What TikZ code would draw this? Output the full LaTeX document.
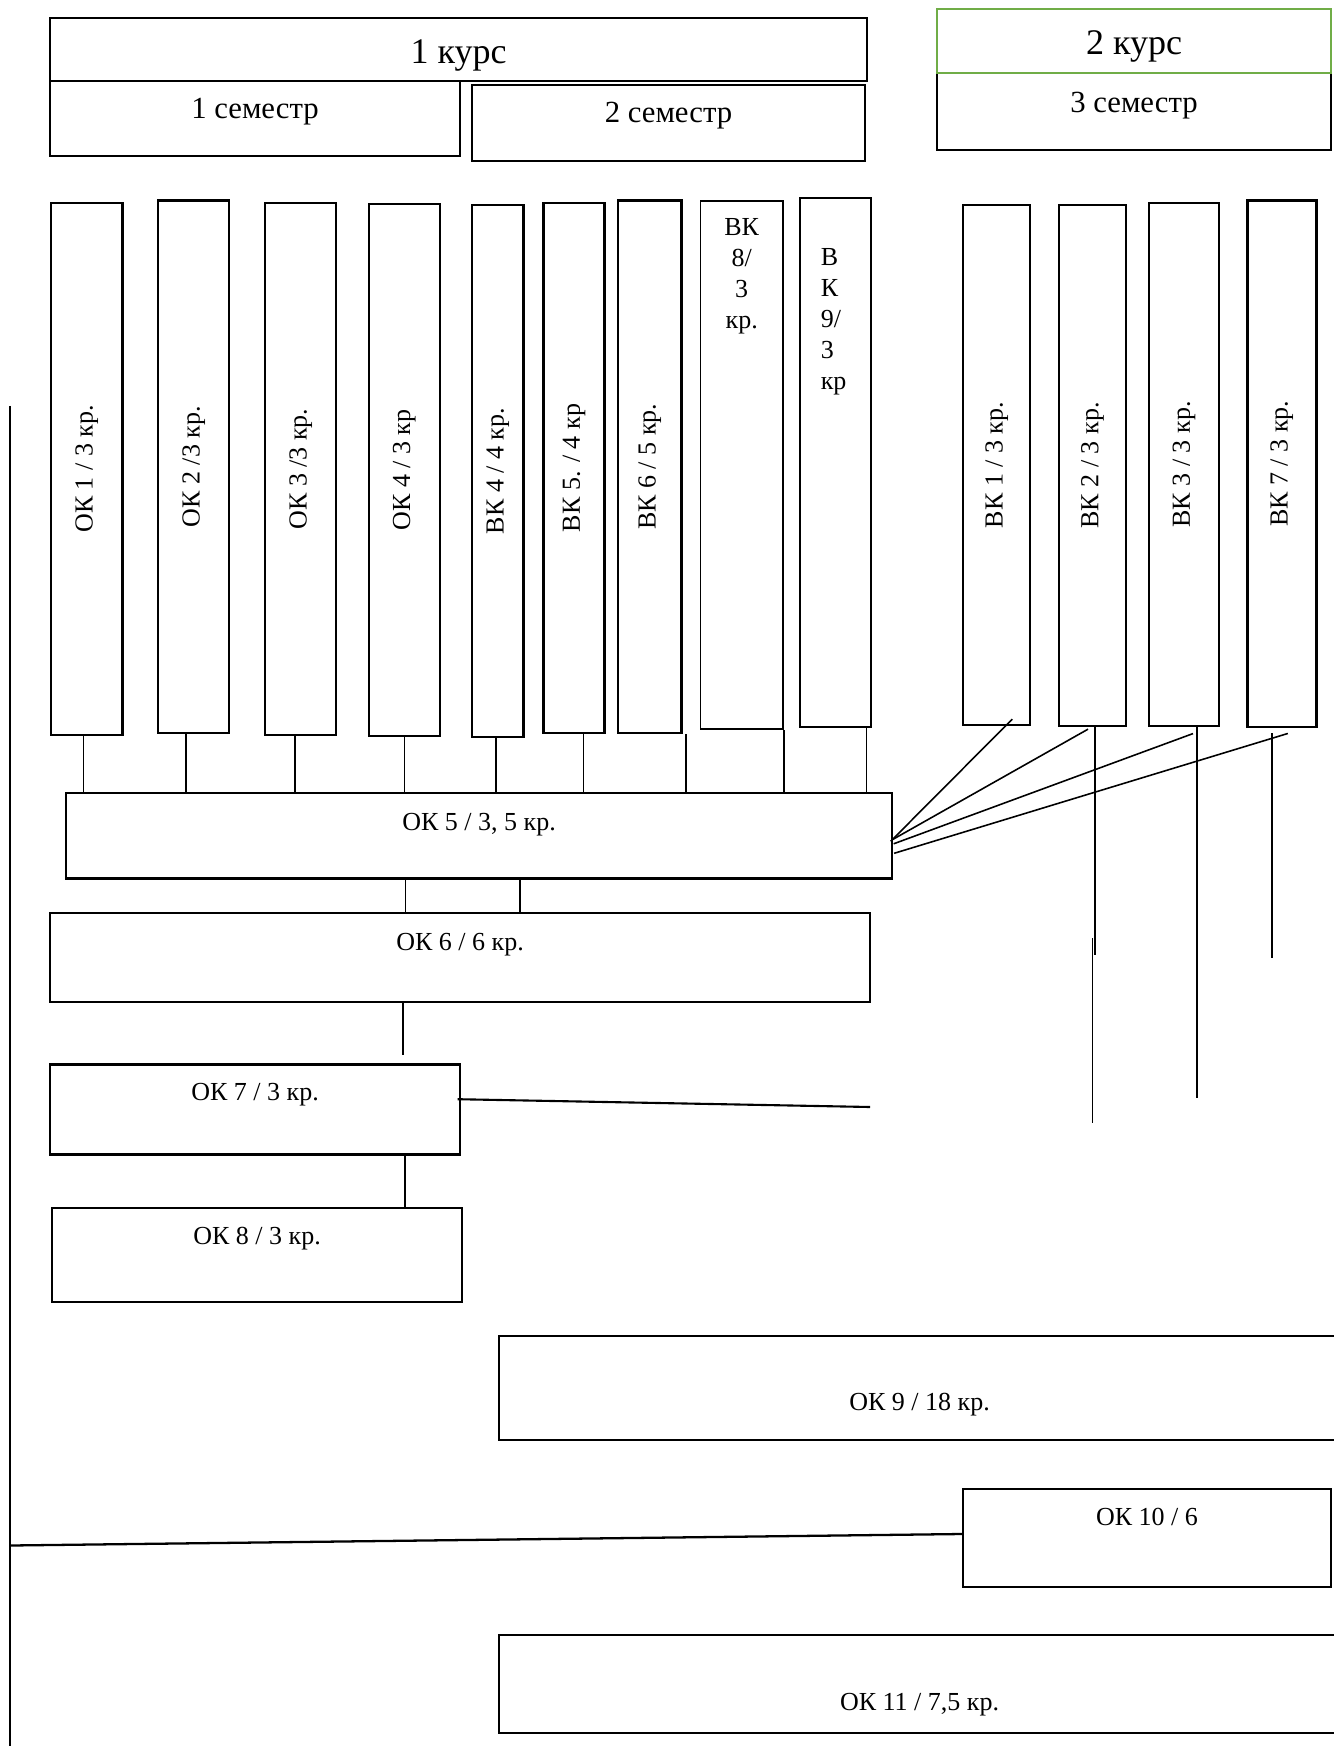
\documentclass[tikz,border=0pt]{standalone}
\usepackage{fontspec}
\setmainfont{Liberation Serif}
\usepackage{graphicx}
\usepackage{xcolor}
\definecolor{kursgreen}{RGB}{112,173,71}

\tikzset{
  box/.style={draw=black, line width=1.4pt, inner sep=0pt, font=\fontsize{14.8}{17.7}\selectfont},
  thinbox/.style={box, line width=1.1pt},
  conn/.style={draw=black, line width=0.9pt},
  rail/.style={draw=black, line width=1.3pt}
}

\begin{document}
\begin{tikzpicture}[x=0.02cm, y=-0.02cm]
  \useasboundingbox (0,0) rectangle (1333,1746);

  \node[box, minimum width=8.2cm, minimum height=1.5cm, font=\fontsize{17.5}{21}\selectfont, text height=12pt, text depth=12pt] (sem1) at (255,118.5) {1 семестр};
  \node[box, minimum width=7.86cm, minimum height=1.52cm, font=\fontsize{17.5}{21}\selectfont, text height=12pt, text depth=12pt] (sem2) at (668.5,123) {2 семестр};
  \node[box, minimum width=16.34cm, minimum height=1.26cm, font=\fontsize{20.5}{24}\selectfont, text height=20.4pt, text depth=4.5pt] (kurs1) at (458.5,49.5) {1 курс};
  \node[box, minimum width=7.88cm, minimum height=1.54cm, font=\fontsize{17.5}{21}\selectfont, text height=12pt, text depth=11pt] (sem3) at (1134,111.5) {3 семестр};
  \node[box, draw=kursgreen, line width=1.2pt, minimum width=7.88cm, minimum height=1.28cm, font=\fontsize{20.5}{24}\selectfont, text height=20.4pt, text depth=4.5pt] (kurs2) at (1134,41) {2 курс};

  \foreach \n/\x/\y/\w/\h/\t in {
      ok1/86.8/469/1.43cm/10.64cm/{ОК 1 / 3 кр.},
      ok2/193.7/466.7/1.42cm/10.65cm/{ОК 2 /3 кр.},
      ok3/300.7/469/1.42cm/10.64cm/{ОК 3 /3 кр.},
      ok4/404.3/470/1.42cm/10.64cm/{ОК 4 / 3 кр},
      vk4/497.7/471/1.03cm/10.64cm/{ВК 4 / 4 кр.},
      vk5/574/468/1.22cm/10.6cm/{ВК 5. / 4 кр},
      vk6/649.8/466.7/1.27cm/10.65cm/{ВК 6 / 5 кр.},
      vk1/996.7/465/1.34cm/10.4cm/{ВК 1 / 3 кр.},
      vk2/1092.5/465.5/1.34cm/10.42cm/{ВК 2 / 3 кр.},
      vk3/1184/464.4/1.4cm/10.46cm/{ВК 3 / 3 кр.},
      vk7/1281.8/463.8/1.38cm/10.54cm/{ВК 7 / 3 кр.}}
    \node[box, minimum width=\w, minimum height=\h] (\n) at (\x,\y) {\rotatebox{90}{\t}};

  \node[thinbox] (vk8) at (741.7,465) {\parbox[c][10.58cm][t]{1.65cm}{\centering\vspace*{10pt}ВК\\8/\\3\\кр.}};
  \node[thinbox] (vk9) at (835.2,462.5) {\parbox[c][10.58cm][t]{1.42cm}{\raggedright\leftskip=12pt\vspace*{28.5pt}В\\К\\9/\\3\\кр}};

  \node[box, minimum width=16.52cm, minimum height=1.71cm, text height=10pt, text depth=16pt] (ok5) at (479,835.8) {ОК 5 / 3, 5 кр.};
  \node[box, minimum width=16.4cm, minimum height=1.78cm, text height=10pt, text depth=18pt] (ok6) at (460,957.6) {ОК 6 / 6 кр.};
  \node[box, minimum width=8.2cm, minimum height=1.8cm, text height=10pt, text depth=20pt] (ok7) at (255,1109.7) {ОК 7 / 3 кр.};
  \node[thinbox, minimum width=8.2cm, minimum height=1.88cm, text height=10pt, text depth=22pt] (ok8) at (257,1255) {ОК 8 / 3 кр.};
  \node[thinbox, minimum width=16.82cm, minimum height=2.07cm, text height=28.6pt, text depth=3pt] (ok9) at (919.5,1388) {ОК 9 / 18 кр.};
  \node[thinbox, minimum width=7.36cm, minimum height=1.96cm, text height=10pt, text depth=24pt] (ok10) at (1147,1538) {ОК 10 / 6};
  \node[thinbox, minimum width=16.82cm, minimum height=1.96cm, text height=32.8pt, text depth=3pt] (ok11) at (919.5,1683.8) {ОК 11 / 7,5 кр.};

  \foreach \n/\a/\dx in {ok1/south/-0.07, ok2/south/-0.15, ok3/south/-0.11, ok4/south/0,
      vk4/south/-0.04, vk5/south/0.19, vk6/south east/0.06, vk8/south east/0, vk9/south east/-0.1}
    \draw[conn] ([xshift=\dx cm]\n.\a) -- ([xshift=\dx cm]\n.\a |- ok5.north);

  \draw[conn] ([xshift=0.31cm, yshift=0.14cm]vk1.south) -- ([xshift=-0.05cm, yshift=-0.11cm]ok5.east);
  \draw[conn] ([xshift=-0.09cm, yshift=-0.04cm]vk2.south) -- ([xshift=-0.02cm, yshift=-0.08cm]ok5.east);
  \draw[conn] ([xshift=0.18cm, yshift=-0.13cm]vk3.south) -- ([xshift=0.01cm, yshift=-0.16cm]ok5.east);
  \draw[conn] ([xshift=0.12cm, yshift=-0.1cm]vk7.south) -- ([xshift=0.02cm, yshift=-0.35cm]ok5.east);

  \coordinate (vk2tail) at (1095,955);
  \coordinate (vk2a) at (1092.6,938);
  \coordinate (vk2b) at (1092.6,1123);
  \coordinate (vk3tail) at (1197,1098);
  \coordinate (vk7tail) at (1272,958);
  \draw[conn] (vk2tail |- vk2.south) -- (vk2tail);
  \draw[conn] (vk2a) -- (vk2b);
  \draw[conn] (vk3tail |- vk3.south) -- (vk3tail);
  \draw[conn] ([yshift=-0.1cm]vk7tail |- vk7.south) -- (vk7tail);

  \draw[conn] ([xshift=-1.47cm]ok5.south) -- ([xshift=-1.47cm]ok5.south |- ok6.north);
  \draw[conn] ([xshift=0.82cm]ok5.south) -- ([xshift=0.82cm]ok5.south |- ok6.north);
  \draw[conn, shorten >=5pt] ([xshift=-1.14cm]ok6.south) -- ([xshift=-1.14cm]ok6.south |- ok7.north);
  \draw[conn] ([xshift=3cm]ok7.south) -- ([xshift=3cm]ok7.south |- ok8.north);

  \coordinate (ok7tail) at (870,1107);
  \draw[conn, line width=1.2pt] ([xshift=-0.07cm, yshift=0.21cm]ok7.east) -- (ok7tail);

  \coordinate (railtop) at (10,406);
  \coordinate (railbot) at (10,1760);
  \coordinate (railjoin) at (10,1545.5);
  \draw[rail] (railtop) -- (railbot);
  \draw[rail] (railjoin) -- ([yshift=0.08cm]ok10.west);
\end{tikzpicture}
\end{document}
